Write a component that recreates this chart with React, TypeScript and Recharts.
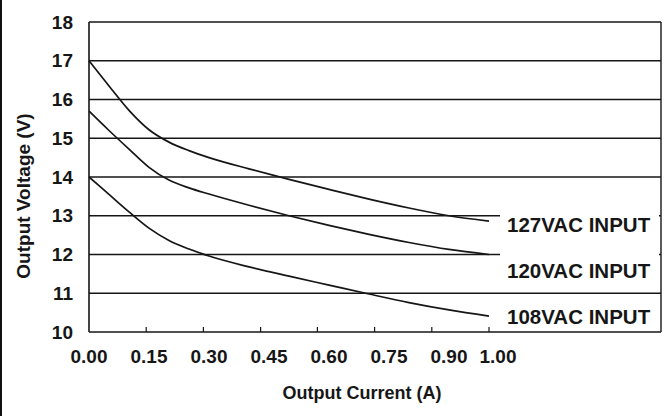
import { LineChart, Line, XAxis, YAxis, CartesianGrid, ReferenceLine } from "recharts";

// output current (A) and the three load curves
const current = [0, 0.05, 0.1, 0.15, 0.2, 0.25, 0.3, 0.4, 0.5, 0.6, 0.7, 0.8, 0.9, 1.0];
const v127 = [17.0, 16.35, 15.72, 15.22, 14.9, 14.68, 14.5, 14.21, 13.94, 13.68, 13.43, 13.2, 13.0, 12.86];
const v120 = [15.7, 15.2, 14.72, 14.25, 13.92, 13.72, 13.56, 13.27, 13.0, 12.75, 12.52, 12.31, 12.13, 12.0];
const v108 = [14.0, 13.55, 13.1, 12.68, 12.36, 12.14, 11.96, 11.68, 11.44, 11.21, 10.98, 10.76, 10.57, 10.41];

const xTicks = [0, 0.15, 0.3, 0.45, 0.6, 0.75, 0.9, 1.0];
// small inward tick marks on the bottom edge of the scan
const xMarks = [0.143, 0.286, 0.429, 0.571, 0.714, 0.857, 1.0];
const yTicks = [10, 11, 12, 13, 14, 15, 16, 17, 18];
const seriesNames = ["127VAC INPUT", "120VAC INPUT", "108VAC INPUT"];

const data = current.map((a, i) => ({ a, v127: v127[i], v120: v120[i], v108: v108[i] }));

const FONT = '"Liberation Sans", Arial, sans-serif';
const INK = "#161616";
const X_MAX = 1.43;

// the last label sits a little further right in the scan
const XTick = ({ x, y, payload }: any) => (
  <text
    x={x + (payload.value === 1 ? 9 : 0)}
    y={y}
    dy="0.71em"
    textAnchor="middle"
    fill={INK}
    fontSize={19}
    fontWeight="bold"
    fontFamily={FONT}
  >
    {Number(payload.value).toFixed(2)}
  </text>
);

const NoLabel = () => <g />;

const tagStyle = (top: number, cover: boolean): React.CSSProperties => ({
  position: "absolute",
  left: 500,
  top,
  width: 159,
  height: 40,
  lineHeight: "40px",
  paddingLeft: 7,
  boxSizing: "border-box",
  background: cover ? "#fff" : "transparent",
  fontSize: 20.5,
  fontWeight: "bold",
  color: INK,
  whiteSpace: "nowrap",
});

export default function App() {
  return (
    <div
      style={{
        position: "absolute",
        left: 0,
        top: 0,
        width: 668,
        height: 416,
        background: "#fff",
        fontFamily: FONT,
        overflow: "hidden",
      }}
    >
      <div style={{ position: "absolute", left: 0, top: 0, width: 2, height: 416, background: "#111" }} />
      <LineChart width={668} height={416} data={data} margin={{ top: 22, right: 7, bottom: 0, left: 0 }}>
        <CartesianGrid vertical={false} stroke={INK} strokeWidth={1.6} />
        {/* default axis: only the small inward marks, sits right on the plot edge */}
        <XAxis
          dataKey="a"
          type="number"
          domain={[0, X_MAX]}
          ticks={xMarks}
          height={1}
          tick={<NoLabel />}
          tickSize={-5}
          tickLine={{ stroke: INK, strokeWidth: 1.2 }}
          axisLine={false}
          interval={0}
        />
        <XAxis
          xAxisId="labels"
          dataKey="a"
          type="number"
          domain={[0, X_MAX]}
          ticks={xTicks}
          height={83}
          tickLine={false}
          tickMargin={11}
          axisLine={false}
          tick={<XTick />}
          interval={0}
        />
        <YAxis
          type="number"
          domain={[10, 18]}
          ticks={yTicks}
          width={89}
          tickLine={false}
          tickMargin={10}
          axisLine={{ stroke: INK, strokeWidth: 1.6 }}
          tick={{ fill: INK, fontSize: 19, fontWeight: "bold", fontFamily: FONT }}
          interval={0}
        />
        <ReferenceLine x={X_MAX} stroke={INK} strokeWidth={1.4} />
        <Line dataKey="v127" type="monotone" stroke={INK} strokeWidth={1.7} dot={false} isAnimationActive={false} />
        <Line dataKey="v120" type="monotone" stroke={INK} strokeWidth={1.7} dot={false} isAnimationActive={false} />
        <Line dataKey="v108" type="monotone" stroke={INK} strokeWidth={1.7} dot={false} isAnimationActive={false} />
      </LineChart>

      <div style={tagStyle(205, true)}>{seriesNames[0]}</div>
      <div style={tagStyle(251, true)}>{seriesNames[1]}</div>
      <div style={tagStyle(297, false)}>{seriesNames[2]}</div>

      <div
        style={{
          position: "absolute",
          left: 262,
          top: 381,
          width: 200,
          textAlign: "center",
          fontSize: 18,
          fontWeight: "bold",
          lineHeight: "24px",
          color: INK,
        }}
      >
        Output Current (A)
      </div>
      <div
        style={{
          position: "absolute",
          left: 24 - 100,
          top: 196 - 12,
          width: 200,
          textAlign: "center",
          fontSize: 19,
          fontWeight: "bold",
          lineHeight: "24px",
          color: INK,
          transform: "rotate(-90deg)",
        }}
      >
        Output Voltage (V)
      </div>
    </div>
  );
}
